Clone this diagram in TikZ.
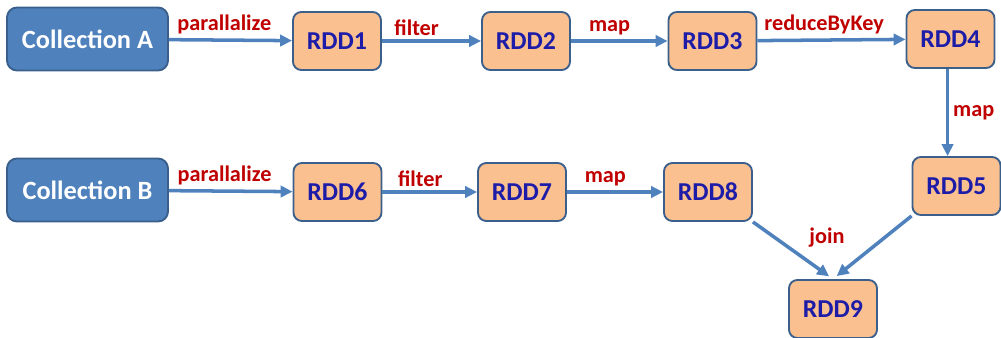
\documentclass[tikz,border=0pt]{standalone}
\usepackage{fontspec}
\setmainfont{Carlito}
\usetikzlibrary{arrows.meta,positioning}
\definecolor{collfill}{HTML}{4F81BD}
\definecolor{boxline}{HTML}{3A5F8B}
\definecolor{rddfill}{HTML}{FAC090}
\definecolor{rddtext}{HTML}{1C1CA8}
\definecolor{opred}{HTML}{C00000}
\definecolor{flowblue}{HTML}{4F81BD}
\tikzset{
	coll/.style={shape=rectangle,rounded corners=0.3cm,draw=boxline,fill=collfill,line width=1.6pt,minimum width=4.83cm,minimum height=1.89cm,text=white,font=\fontsize{22.5}{26}\selectfont\bfseries},
	rdd/.style={shape=rectangle,rounded corners=0.25cm,draw=boxline,fill=rddfill,line width=1.6pt,minimum width=2.64cm,minimum height=1.74cm,text=rddtext,font=\fontsize{22}{26}\selectfont\bfseries},
	flow/.style={->,line width=3pt,draw=flowblue},
	op/.style={text=opred,font=\fontsize{19}{22}\selectfont\bfseries}
}

\begin{document}
\begin{tikzpicture}[x=0.03cm,y=-0.03cm,>={Triangle[length=0.36cm,width=0.34cm]}]
	\useasboundingbox (0,0) rectangle (1001,338);
	\node[coll](ca) at (87.5,39){Collection A};
	\node[coll](cb) at (87.5,190){Collection B};
	\node[rdd](r1) at (337,41){RDD1};
	\node[rdd](r2) at (526,41){RDD2};
	\node[rdd](r3) at (712.5,41){RDD3};
	\node[rdd](r4) at (950.5,39){RDD4};
	\node[rdd](r5) at (956.5,186){RDD5};
	\node[rdd](r6) at (337.5,192){RDD6};
	\node[rdd](r7) at (522,192){RDD7};
	\node[rdd](r8) at (708,192){RDD8};
	\node[rdd](r9) at (833,309){RDD9};
	\node[op](j) at (827,238){join};
	\draw[flow] (ca) -- node[op,pos=0.45,above]{parallalize}(r1);
	\draw[flow] (r1) -- node[op,pos=0.35,above]{filter}(r2);
	\draw[flow] (r2) -- node[op,pos=0.4,above]{map}(r3);
	\draw[flow] (r3) -- node[op,pos=0.45,above]{reduceByKey}(r4);
	\draw[flow] ([xshift=-2.5]r4.south) -- node[op,right=0pt]{map}([xshift=-2.5]r4.south |- r5.north);
	\draw[flow] (cb) -- node[op,pos=0.45,above]{parallalize}(r6);
	\draw[flow] (r6) -- node[op,pos=0.4,above]{filter}(r7);
	\draw[flow] (r7) -- node[op,pos=0.4,above]{map}(r8);
	\draw[flow,shorten >=4pt] (r8.south east) -- (r9.north);
	\draw[flow,shorten >=4pt] (r5.south west) -- (r9.north);
\end{tikzpicture}
\end{document}
